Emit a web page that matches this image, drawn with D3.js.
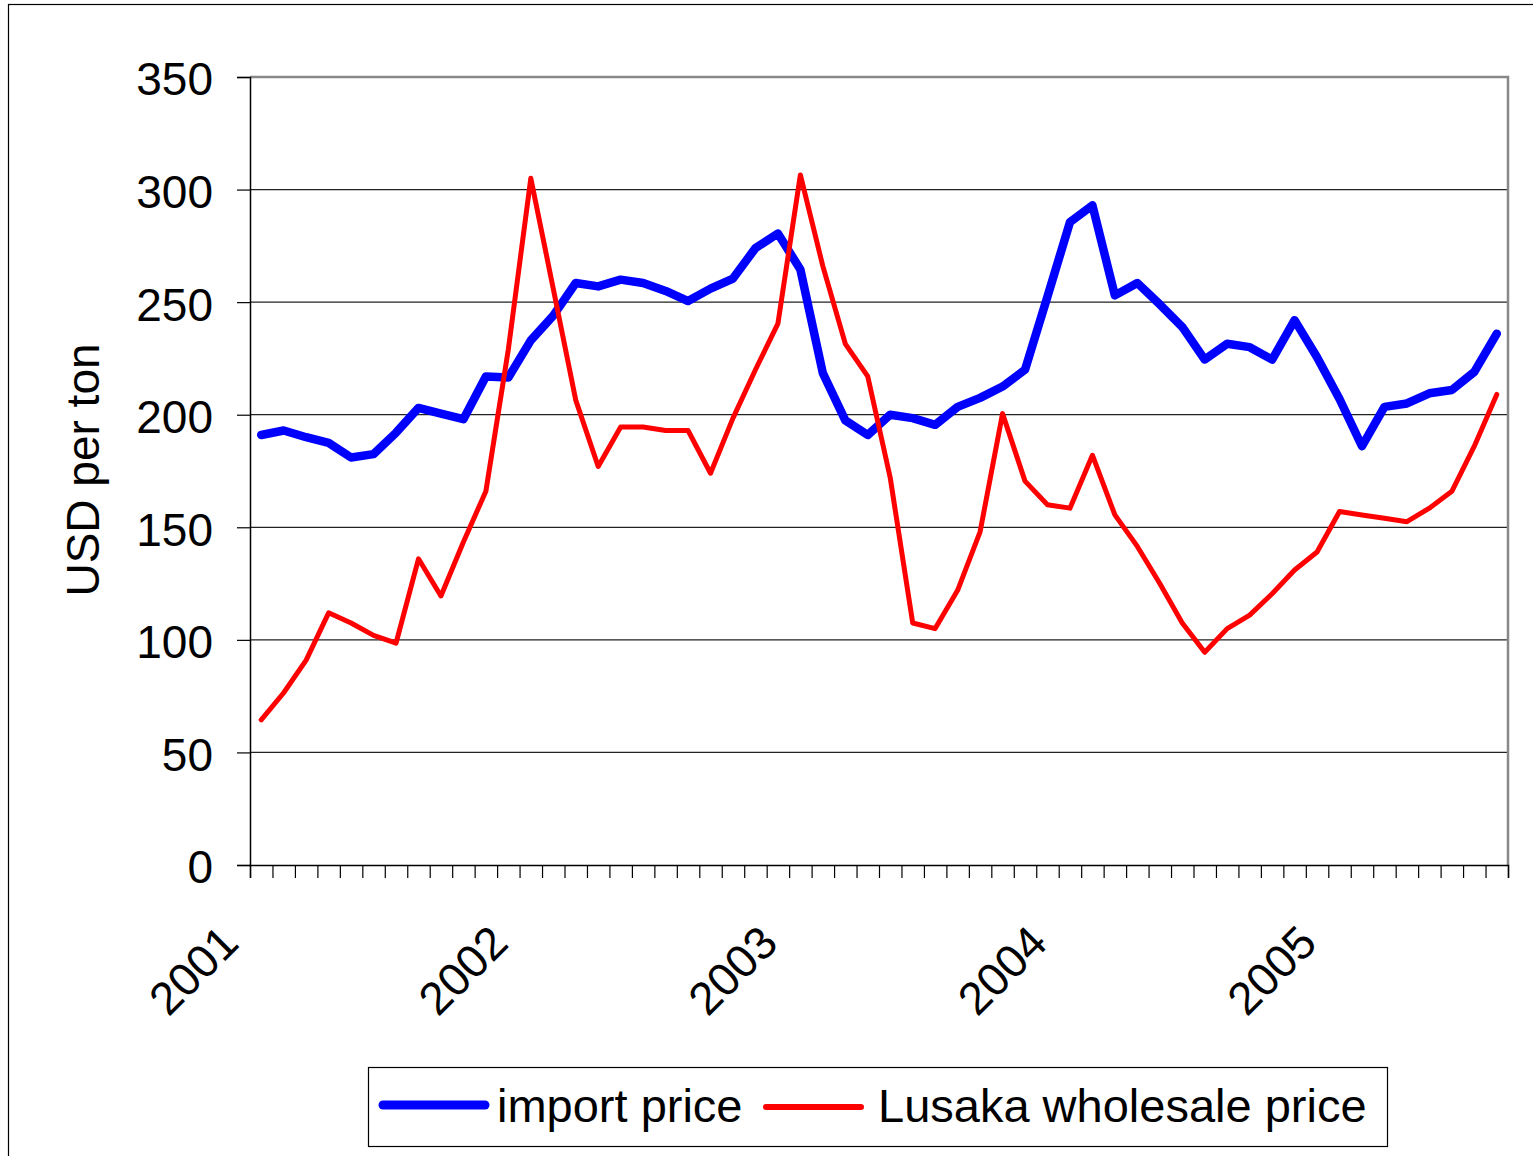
<!DOCTYPE html>
<html>
<head>
<meta charset="utf-8">
<script src="https://cdn.jsdelivr.net/npm/d3@7"></script>
<style>
  body { margin: 0; background: #fff; }
  svg { display: block; font-family: "Liberation Sans", Arial, sans-serif; }
</style>
</head>
<body>
<div id="chart-area"></div>
<script>
// monthly series, Jan 2001 - Aug 2005
var importPrice = [191, 193, 190, 187.5, 181, 182.5, 192, 203, 200.5, 198,
  217, 216.5, 233, 244, 258.5, 257, 260, 258.5, 255, 250.5,
  256, 260.5, 274, 280.5, 264.5, 218.5, 197.5, 191, 200, 198.5,
  195.5, 203.5, 207.5, 212.5, 220, 252.5, 285.5, 293, 253, 258.5,
  249, 239, 224.5, 231.5, 230, 224.5, 242, 225.5, 207, 186,
  203.5, 205, 209.5, 211, 219, 236];
var lusakaPrice = [64.5, 76.5, 91, 112, 107.5, 102, 98.5, 136, 119.5, 143.5,
  166, 229, 305, 256, 206.5, 177, 194.5, 194.5, 193, 193,
  174, 198.5, 220, 240.5, 306.5, 266, 231.5, 217, 172, 107.5,
  105, 122, 148, 200.5, 170.5, 160, 158.5, 182, 155.5, 141.5,
  125, 107.5, 94.5, 105, 111, 120.5, 131, 139, 157, 155.5,
  154, 152.5, 158.5, 166, 186, 209];
var yearLabels = ["2001", "2002", "2003", "2004", "2005"];
var yTicks = [0, 50, 100, 150, 200, 250, 300, 350];
var seriesNames = ["import price", "Lusaka wholesale price"];
var seriesColors = ["#0000ff", "#ff0000"];

var margin = { left: 250, right: 25, top: 77, bottom: 291 };
var width = 1533 - margin.left - margin.right,
  height = 1156 - margin.top - margin.bottom;

var svg = d3.select("#chart-area")
  .append("svg")
  .attr("width", 1533)
  .attr("height", 1156);

// outer chart frame
svg.append("rect")
  .attr("x", 8.5).attr("y", 4.5)
  .attr("width", 1600).attr("height", 1200)
  .attr("fill", "#fff")
  .attr("stroke", "#000")
  .attr("stroke-width", 1.2);

var g = svg.append("g")
  .attr("transform", "translate(" + margin.left + "," + margin.top + ")");

var n = importPrice.length;
var x = d3.scaleLinear().domain([0, n]).range([0, width]);
var y = d3.scaleLinear().domain([0, 350]).range([height, 0]);

// gridlines
g.selectAll(".grid")
  .data(yTicks.filter(function (d) { return d > 0 && d < 350; }))
  .enter().append("line")
  .attr("x1", 0).attr("x2", width)
  .attr("y1", function (d) { return y(d); })
  .attr("y2", function (d) { return y(d); })
  .attr("stroke", "#222")
  .attr("stroke-width", 1.2);

// plot border (top, right) in grey
g.append("path")
  .attr("d", "M0," + y(350) + "H" + width + "V" + height)
  .attr("fill", "none")
  .attr("stroke", "#888")
  .attr("stroke-width", 2.5);

// Y axis
var yAxis = g.append("g")
  .call(d3.axisLeft(y).tickValues(yTicks).tickSize(13).tickPadding(24));
yAxis.select(".domain").attr("stroke", "#000").attr("stroke-width", 1.5);
yAxis.selectAll(".tick line").attr("stroke", "#000").attr("stroke-width", 1.2);
yAxis.selectAll("text")
  .attr("font-size", 46)
  .attr("font-family", "Liberation Sans, Arial, sans-serif")
  .attr("fill", "#000")
  .attr("dy", "0.39em");

// X axis: a tick between every month
var xAxis = g.append("g")
  .attr("transform", "translate(0," + height + ")")
  .call(d3.axisBottom(x).tickValues(d3.range(0, n + 1)).tickSize(13).tickFormat(""));
xAxis.select(".domain").attr("stroke", "#000").attr("stroke-width", 1.5);
xAxis.selectAll(".tick line").attr("stroke", "#000").attr("stroke-width", 1.2);

// year labels
var yearAxis = g.append("g")
  .attr("transform", "translate(0," + height + ")")
  .call(d3.axisBottom(x).tickValues(d3.range(0, n, 12)).tickSize(0)
    .tickFormat(function (d, i) { return yearLabels[i]; }));
yearAxis.select(".domain").remove();
yearAxis.selectAll("text")
  .attr("font-size", 46)
  .attr("font-family", "Liberation Sans, Arial, sans-serif")
  .attr("fill", "#000")
  .attr("text-anchor", "end")
  .attr("y", 0).attr("dy", "0.35em")
  .attr("transform", "translate(-21,69) rotate(-45)");

// Y axis title
svg.append("text")
  .attr("transform", "translate(99,470) rotate(-90)")
  .attr("text-anchor", "middle")
  .attr("font-size", 46)
  .attr("fill", "#000")
  .text("USD per ton");

// lines
var line = d3.line()
  .x(function (d, i) { return x(i + 0.5); })
  .y(function (d) { return y(d); });

g.append("path")
  .datum(importPrice)
  .attr("d", line)
  .attr("fill", "none")
  .attr("stroke", seriesColors[0])
  .attr("stroke-width", 8.5)
  .attr("stroke-linejoin", "round")
  .attr("stroke-linecap", "round");

g.append("path")
  .datum(lusakaPrice)
  .attr("d", line)
  .attr("fill", "none")
  .attr("stroke", seriesColors[1])
  .attr("stroke-width", 5)
  .attr("stroke-linejoin", "round")
  .attr("stroke-linecap", "round");

// Legend
var legend = svg.append("g");
legend.append("rect")
  .attr("x", 368.5).attr("y", 1067.5)
  .attr("width", 1019).attr("height", 79)
  .attr("fill", "#fff")
  .attr("stroke", "#000")
  .attr("stroke-width", 1.2);

var legendItems = [
  { x1: 383, x2: 485, y: 1105, w: 9, tx: 497 },
  { x1: 766, x2: 861, y: 1107, w: 6, tx: 878 }
];
legendItems.forEach(function (it, i) {
  legend.append("line")
    .attr("x1", it.x1).attr("x2", it.x2)
    .attr("y1", it.y).attr("y2", it.y)
    .attr("stroke", seriesColors[i])
    .attr("stroke-width", it.w)
    .attr("stroke-linecap", "round");
  legend.append("text")
    .attr("x", it.tx).attr("y", 1122)
    .attr("font-size", 47)
    .attr("fill", "#000")
    .text(seriesNames[i]);
});
</script>
</body>
</html>
